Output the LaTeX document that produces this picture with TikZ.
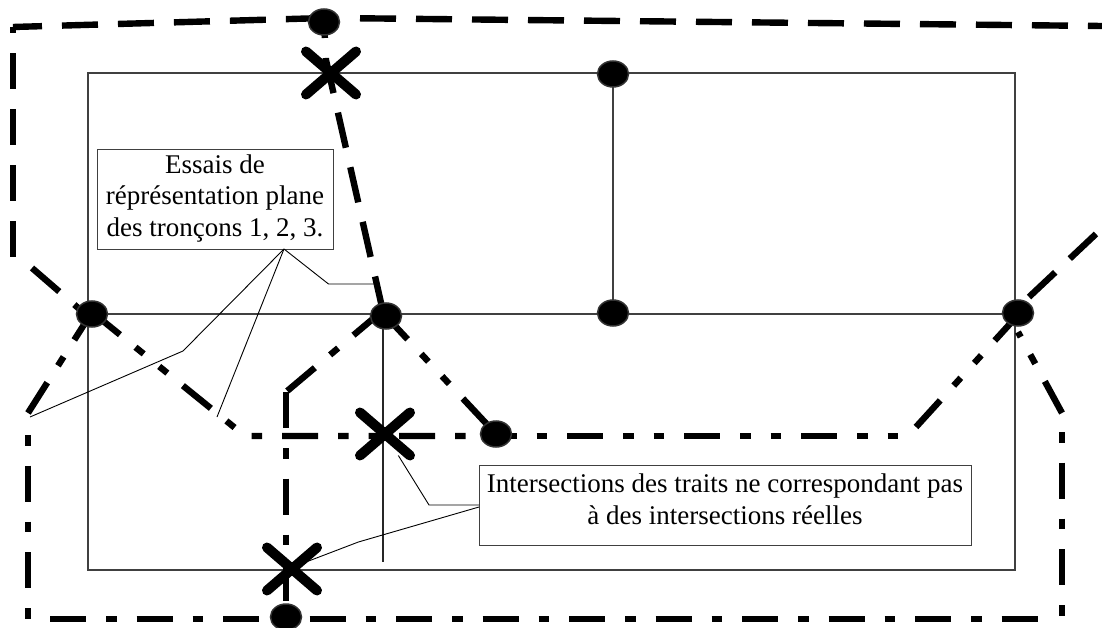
\documentclass[tikz,border=0pt]{standalone}
\usepackage{fontspec}
\setmainfont{Liberation Serif}
\usetikzlibrary{shapes.geometric, shapes.misc}
\tikzset{
	traitlong/.style={line width=6.4pt, dash pattern=on 36pt off 20pt},
	traitmixte/.style={line width=6.4pt, dash pattern=on 36pt off 20pt on 10.5pt off 20pt},
	traitdouble/.style={line width=6.4pt, dash pattern=on 36pt off 20pt on 10.5pt off 20pt on 10.5pt off 20pt},
	plan/.style={line width=2.6pt, draw=black!75},
	renvoi/.style={line width=0.9pt},
	pointnoir/.style={ellipse, fill=black, draw=black!80, line width=1.5pt, minimum width=31pt, minimum height=26pt, inner sep=0pt},
	croix/.style={cross out, draw=black, line width=10pt, line cap=round, minimum width=50pt, minimum height=43pt, inner sep=0pt, outer sep=0pt},
	boite/.style={draw=black!75, line width=0.9pt, fill=white, inner sep=0pt},
	legende/.style={align=center, font=\fontsize{27}{31.5}\selectfont, inner sep=0pt}
}
\begin{document}
\begin{tikzpicture}[x=1pt, y=-1pt]
	\useasboundingbox (0,0) rectangle (1102,628);

	% Plan
	\draw[plan] (88,73) rectangle (1015,570);
	\draw[plan] (88,314) -- (1015,314);
	\draw[plan] (613,73) -- (613,314);
	\draw[line width=2.2pt, draw=black!85] (383,316) -- (383,562);

	% Points
	\coordinate (coudea) at (245,436);
	\coordinate (coudeb) at (286,392);
	\coordinate (coudec) at (326,60);
	\coordinate (couded) at (13,27);

	% Trait 1
	\draw[traitlong] (13,257) -- (couded);
	\draw[traitlong, dash phase=7pt] (couded) -- (325,18);
	\draw[traitlong] (360,18.3) -- (1102,26);
	\draw[traitlong, dash phase=20pt] (324,22) -- (coudec) -- (384,316);

	% Trait 2
	\draw[traitdouble] (32,268) -- (84,313);
	\draw[traitdouble] (92,312) -- (coudea) -- (496,436);
	\draw[traitdouble, dash phase=46pt] (496,436) -- (901,436);
	\draw[traitdouble] (916,427) -- (1018,315);
	\draw[traitlong] (1029,297) -- (1097,233);

	% Trait 3
	\draw[traitdouble] (383,313) -- (496,434);
	\draw[traitmixte] (381,312) -- (coudeb);
	\draw[traitmixte] (coudeb) -- (286,617);

	% Trait 4
	\draw[traitmixte] (28,413) -- (92,312);
	\draw[traitmixte, dash phase=56pt] (28,435) -- (28,620);
	\draw[traitmixte] (50,619) -- (1044,619);
	\draw[traitmixte, dash phase=56pt] (1062,432) -- (1062,617);
	\draw[traitmixte] (1062,413) -- (1018,332);

	% Intersections
	\node[pointnoir] (pthaut) at (324,22) {};
	\node[pointnoir] (pta) at (613,74) {};
	\node[pointnoir] (ptb) at (92,314) {};
	\node[pointnoir] (ptc) at (386,316) {};
	\node[pointnoir] (ptd) at (613,313) {};
	\node[pointnoir] (pte) at (1018,313) {};
	\node[pointnoir] (ptf) at (496,434) {};
	\node[pointnoir] (ptbas) at (286,617) {};

	\node[croix] (croixa) at (331,73) {};
	\node[croix] (croixb) at (385,434) {};
	\node[croix] (croixc) at (292,569) {};

	% Legendes
	\node[boite, minimum width=236pt, minimum height=100pt] (boiteessais) at (215,199) {};
	\node[legende] (textessais) at (215,198.5) {Essais de\\réprésentation plane\\des tronçons 1, 2, 3.};
	\node[boite, minimum width=492pt, minimum height=80pt] (boiteinter) at (725,505) {};
	\node[legende] (textinter) at (725,499.5) {Intersections des traits ne correspondant pas\\à des intersections réelles};

	% Renvois
	\coordinate (depart) at (284,249);
	\draw[renvoi] (depart) -- (183,351) -- (30,417);
	\draw[renvoi] (depart) -- (217,417);
	\draw[renvoi] (depart) -- (328.5,284) -- (374,284);
	\draw[renvoi] (479,505) -- (429,505) -- (croixb);
	\draw[renvoi] (479,507) -- (358.4,542) -- (306,562);
\end{tikzpicture}
\end{document}
